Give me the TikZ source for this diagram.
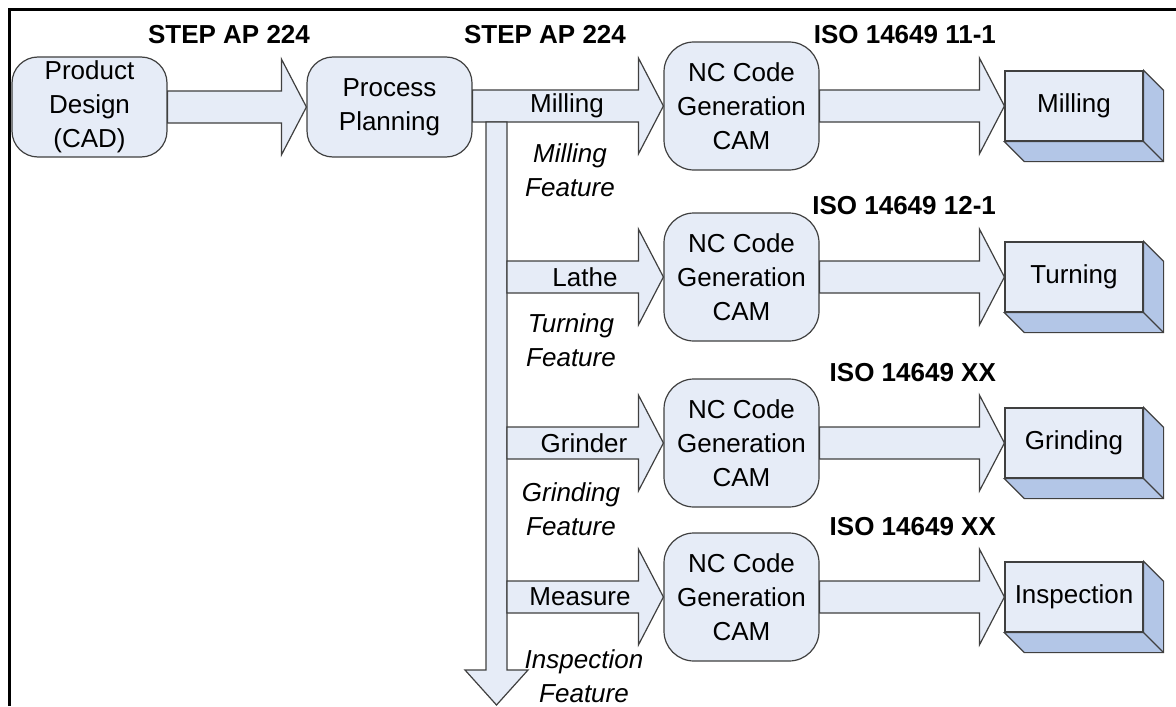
\documentclass[tikz,border=0pt]{standalone}
\usepackage{fontspec}
\setmainfont{Liberation Sans}
\usetikzlibrary{calc,positioning}

\definecolor{boxfill}{HTML}{E6ECF7}
\definecolor{boxside}{HTML}{B3C6E7}
\definecolor{boxline}{HTML}{404040}

\newcommand{\blockarrow}[2]{%
    \draw[flow] let \p1=#1, \p2=#2 in
        (\x1,\y2+8pt) -- (\x2-12.5pt,\y2+8pt) -- (\x2-12.5pt,\y2+24pt) -- (\x2,\y2)
        -- (\x2-12.5pt,\y2-24pt) -- (\x2-12.5pt,\y2-8pt) -- (\x1,\y2-8pt) -- cycle;}

\begin{document}
\begin{tikzpicture}[%
            x=0.5pt, y=-0.5pt,
            every node/.style={font=\fontsize{13}{17}\selectfont},
            stage/.style={draw=boxline, fill=boxfill, line width=0.6pt, rounded corners=13pt,
                align=center, inner sep=0pt, minimum height=50pt},
            nc/.style={stage, rounded corners=15pt, minimum width=77.5pt, minimum height=64pt},
            machine/.style={draw=boxline, fill=boxfill, line width=0.6pt,
                minimum width=69pt, minimum height=35pt, inner sep=0pt},
            side/.style={draw=boxline, fill=boxside, line width=0.6pt},
            flow/.style={draw=boxline, fill=boxfill, line width=0.6pt},
            feat/.style={font=\fontsize{13}{17}\selectfont\itshape, align=center},
            std/.style={font=\fontsize{13}{16}\selectfont\bfseries}
            ]
            \useasboundingbox (0,0) rectangle (1176,706);
            \draw[line width=1.5pt] (9,706) -- (9,10) -- (1176,10);

            \node[stage, minimum width=77.5pt] (cad) at (89.5,107) {Product\\Design\\(CAD)};
            \node[stage, minimum width=82.5pt] (plan) at (389.5,107) {Process\\Planning};

            \node[nc] (nc1) at (741.5,106) {NC Code\\Generation\\CAM};
            \node[nc] (nc2) at (741.5,277) {NC Code\\Generation\\CAM};
            \node[nc] (nc3) at (741.5,443) {NC Code\\Generation\\CAM};
            \node[nc] (nc4) at (741.5,597) {NC Code\\Generation\\CAM};

            \node[machine] (mill) at (1074,106) {Milling};
            \node[machine] (turn) at (1074,277) {Turning};
            \node[machine] (grind) at (1074,443) {Grinding};
            \node[machine] (insp) at (1074,597) {Inspection};

            \foreach \b in {mill,turn,grind,insp} {
                \filldraw[side] (\b.north east) -- ++(20,20) -- ($(\b.south east)+(20,20)$)
                    -- ($(\b.south west)+(20,20)$) -- (\b.south west) -- (\b.south east) -- cycle;
                \draw[boxline, line width=0.6pt] (\b.south east) -- ++(20,20);
            }

            \coordinate (trunktop) at (496.5,122);
            \coordinate (trunk) at (507,122);
            \coordinate (down) at (496.5,705);

            \blockarrow{(cad.east)}{(plan.west)}
            \blockarrow{(plan.east)}{(nc1.west)}
            \draw[flow] let \p1=(trunktop), \p2=(down) in
                (\x1-5.25pt,\y1) -- (\x1-5.25pt,\y2+17.5pt) -- (\x1-15.75pt,\y2+17.5pt) -- (\x2,\y2)
                -- (\x1+15.75pt,\y2+17.5pt) -- (\x1+5.25pt,\y2+17.5pt) -- (\x1+5.25pt,\y1) -- cycle;
            \blockarrow{(trunk)}{(nc2.west)}
            \blockarrow{(trunk)}{(nc3.west)}
            \blockarrow{(trunk)}{(nc4.west)}

            \blockarrow{(nc1.east)}{(mill.west)}
            \blockarrow{(nc2.east)}{(turn.west)}
            \blockarrow{(nc3.east)}{(grind.west)}
            \blockarrow{(nc4.east)}{(insp.west)}

            \node (lmill) at (567,106) {Milling};
            \node (llathe) at (585,277) {Lathe};
            \node (lgrind) at (584,443) {Grinder};
            \node (lmeas) at (580,597) {Measure};

            \node[feat] (fmill) at (570,170) {Milling\\Feature};
            \node[feat] (fturn) at (571,340) {Turning\\Feature};
            \node[feat] (fgrind) at (571,509) {Grinding\\Feature};
            \node[feat] (finsp) at (584,676) {Inspection\\Feature};

            \node[std] (step1) at (229,35) {STEP AP 224};
            \node[std] (step2) at (545,35) {STEP AP 224};
            \node[std, anchor=east] (iso1) at (1003,35) {ISO 14649 11-1};
            \node[std, anchor=east] (iso2) at (1003,206) {ISO 14649 12-1};
            \node[std, anchor=east] (iso3) at (1003,373) {ISO 14649 XX};
            \node[std, anchor=east] (iso4) at (1003,527) {ISO 14649 XX};
        \end{tikzpicture}
\end{document}
